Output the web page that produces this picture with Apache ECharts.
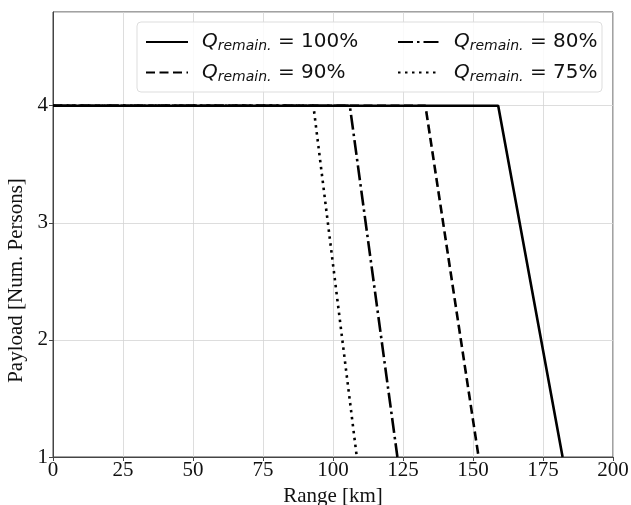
<!DOCTYPE html>
<html>
<head>
<meta charset="utf-8">
<script src="https://cdn.jsdelivr.net/npm/echarts@6/dist/echarts.min.js"></script>
<style>
  html, body { margin: 0; padding: 0; background: #fff; }
  #chart { width: 631px; height: 505px; }
</style>
</head>
<body>
<div id="chart"></div>
<script>
// range [km] / payload [persons] for each remaining capacity
const names = ['100', '90', '80', '75']
const range100 = [0, 159, 182]
const range90 = [0, 133, 152]
const range80 = [0, 106, 123]
const range75 = [0, 93, 108.5]
const payload = [4, 4, 1]
const xTicks = [0, 25, 50, 75, 100, 125, 150, 175, 200]
const yTicks = [1, 2, 3, 4]

const dashes = {
  '100': 'solid',
  '90': [9, 4.5],
  '80': [15, 4, 2.5, 4],
  '75': [2.5, 4.5]
}
const ranges = { '100': range100, '90': range90, '80': range80, '75': range75 }

const chart = echarts.init(document.getElementById('chart'))

const serif = 'Liberation Serif'
const legendText = {
  fontFamily: 'DejaVu Sans', fontSize: 20, color: '#111',
  rich: {
    q: { fontFamily: 'DejaVu Sans', fontStyle: 'italic', fontSize: 20, color: '#111', padding: [0, 0, 0, 9] },
    s: { fontFamily: 'DejaVu Sans', fontStyle: 'italic', fontSize: 14, color: '#111', padding: [9, 0, 0, 0] },
    t: { fontFamily: 'DejaVu Sans', fontSize: 20, color: '#111' }
  }
}
function legendAt(left, data) {
  return {
    orient: 'vertical', left: left, top: 32, data: data, z: 60, padding: 0,
    itemWidth: 42, itemHeight: 14, itemGap: 9,
    itemStyle: { opacity: 0 },
    textStyle: legendText,
    formatter: n => '{q|Q}{s|remain.}{t| = ' + n + '%}'
  }
}

option = {
  animation: false,
  grid: { left: 53, right: 18, top: 12, bottom: 48, outerBoundsMode: 'none', containLabel: false,
    show: true, borderColor: '#444', borderWidth: 1 },
  graphic: [{
    type: 'rect', shape: { x: 137, y: 22, width: 465, height: 70, r: 4 },
    style: { fill: 'rgba(255,255,255,0.85)', stroke: '#ddd', lineWidth: 1 }, z: 50
  }],
  legend: [legendAt(145, ['100', '90']), legendAt(397, ['80', '75'])],
  xAxis: {
    type: 'value', min: 0, max: 200, interval: 25,
    name: 'Range [km]', nameLocation: 'middle', nameGap: 29,
    nameTextStyle: { fontFamily: serif, fontSize: 21, color: '#111' },
    axisLine: { show: true, lineStyle: { color: '#444' } },
    axisTick: { show: true, length: 4, lineStyle: { color: '#444' } },
    axisLabel: { fontFamily: serif, fontSize: 21, color: '#111', margin: 3 },
    splitLine: { show: true, lineStyle: { color: '#d4d4d4', width: 0.8 } }
  },
  yAxis: {
    type: 'value', min: 1, max: 4.8, interval: 1,
    name: 'Payload [Num. Persons]', nameLocation: 'middle', nameGap: 22,
    nameTextStyle: { fontFamily: serif, fontSize: 21, color: '#111', padding: [0, 92, 0, 0] },
    axisLine: { show: true, lineStyle: { color: '#444' } },
    axisTick: { show: true, length: 4, lineStyle: { color: '#444' } },
    axisLabel: { fontFamily: serif, fontSize: 21, color: '#111', margin: 5, showMaxLabel: false,
      formatter: v => yTicks.includes(v) ? String(v) : '' },
    splitLine: { show: true, lineStyle: { color: '#d4d4d4', width: 0.8 } }
  },
  series: names.map((n, i) => ({
    name: n, type: 'line', symbol: 'none', z: 10 - i,
    lineStyle: { color: '#000', width: 2.6, type: dashes[n] },
    itemStyle: { color: '#000' },
    data: ranges[n].map((x, k) => [x, payload[k]])
  }))
}
chart.setOption(option)
</script>
</body>
</html>
